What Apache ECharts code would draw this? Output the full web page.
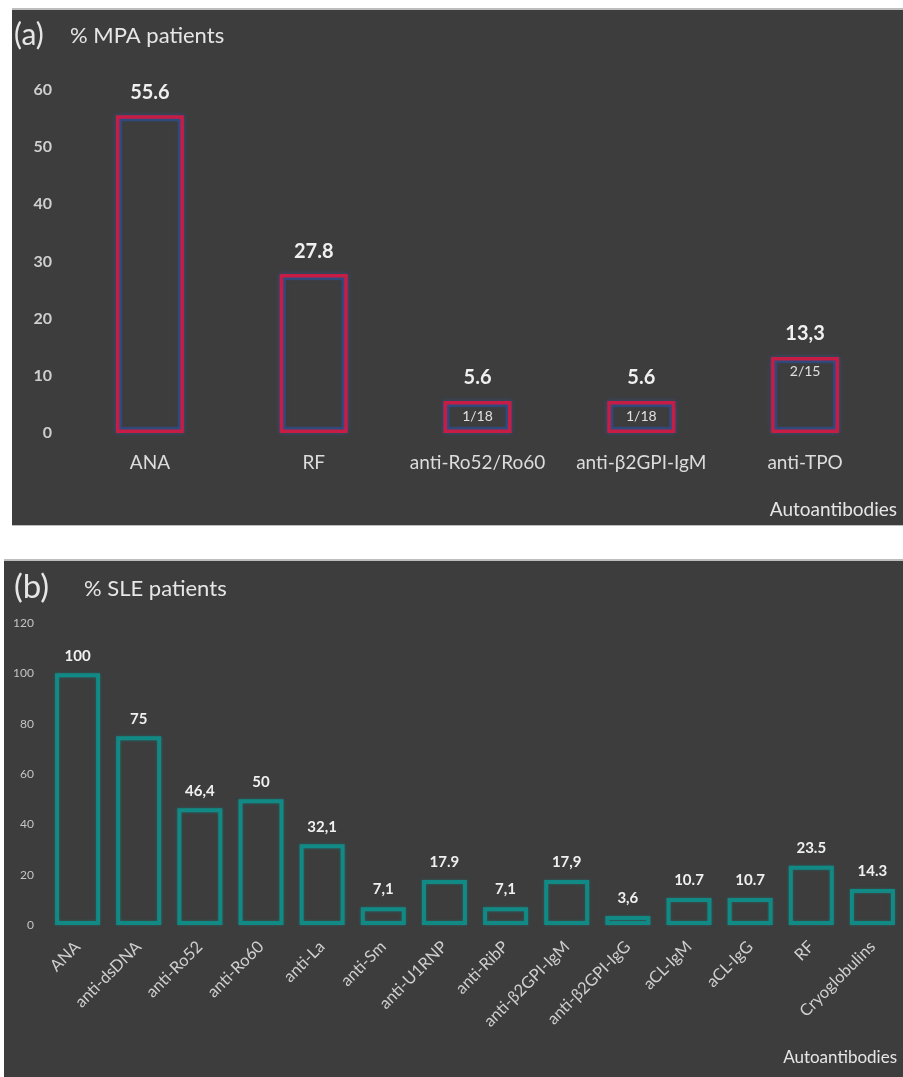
<!DOCTYPE html>
<html><head><meta charset="utf-8">
<script src="https://cdn.jsdelivr.net/npm/echarts@6/dist/echarts.min.js"></script>
<style>html,body{margin:0;padding:0;background:#fff}#c{width:903px;height:1077px}</style>
</head><body><div id="c"></div>
<script>
// Panel (a): MPA patients
const mpaCategories = ['ANA', 'RF', 'anti-Ro52/Ro60', 'anti-β2GPI-IgM', 'anti-TPO'];
const mpaValues = [55.6, 27.8, 5.6, 5.6, 13.3];
const mpaLabels = ['55.6', '27.8', '5.6', '5.6', '13,3'];
const mpaFractions = ['', '', '1/18', '1/18', '2/15'];
const mpaTicks = [0, 10, 20, 30, 40, 50, 60];

// Panel (b): SLE patients
const sleCategories = ['ANA', 'anti-dsDNA', 'anti-Ro52', 'anti-Ro60', 'anti-La', 'anti-Sm', 'anti-U1RNP', 'anti-RibP', 'anti-β2GPI-IgM', 'anti-β2GPI-IgG', 'aCL-IgM', 'aCL-IgG', 'RF', 'Cryoglobulins'];
const sleValues = [100, 75, 46.4, 50, 32.1, 7.1, 17.9, 7.1, 17.9, 3.6, 10.7, 10.7, 23.5, 14.3];
const sleLabels = ['100', '75', '46,4', '50', '32,1', '7,1', '17.9', '7,1', '17,9', '3,6', '10.7', '10.7', '23.5', '14.3'];
const sleTicks = [0, 20, 40, 60, 80, 100, 120];

const FONT = 'Lato, "Open Sans", sans-serif';
const BG = '#3d3d3d';
const chart = echarts.init(document.getElementById('c'), null, {renderer: 'canvas'});

chart.setOption({
  backgroundColor: '#ffffff',
  animation: false,
  textStyle: {fontFamily: FONT},
  graphic: [
    {type: 'rect', shape: {x: 12, y: 8, width: 895, height: 518}, style: {fill: '#bdbdbd'}, z: -12},
    {type: 'rect', shape: {x: 12, y: 10, width: 895, height: 515}, style: {fill: BG}, z: -10},
    {type: 'rect', shape: {x: 4, y: 559, width: 903, height: 520}, style: {fill: '#bdbdbd'}, z: -12},
    {type: 'rect', shape: {x: 4, y: 561, width: 903, height: 520}, style: {fill: BG}, z: -10},
    {type: 'text', left: 14, top: 20, style: {text: '(a)', fill: '#e6e6e6', font: '30px ' + FONT}},
    {type: 'text', left: 70, top: 25, style: {text: '% MPA patients', fill: '#e6e6e6', font: '22px ' + FONT}},
    {type: 'text', right: 6, top: 500, style: {text: 'Autoantibodies', fill: '#e6e6e6', font: '19px ' + FONT}},
    {type: 'text', left: 14, top: 571, style: {text: '(b)', fill: '#e6e6e6', font: '33px ' + FONT}},
    {type: 'text', left: 84, top: 578, style: {text: '% SLE patients', fill: '#e6e6e6', font: '22px ' + FONT}},
    {type: 'text', right: 6, top: 1049, style: {text: 'Autoantibodies', fill: '#e6e6e6', font: '17px ' + FONT}}
  ],
  grid: [
    {left: 68, right: 16, top: 90, bottom: 1077 - 433, containLabel: false},
    {left: 47, right: -8, top: 623, bottom: 1077 - 925, containLabel: false}
  ],
  xAxis: [
    {type: 'category', gridIndex: 0, data: mpaCategories,
     axisLine: {show: false}, axisTick: {show: false},
     axisLabel: {color: '#dcdcdc', fontSize: 19, margin: 20, fontFamily: FONT, interval: 0}},
    {type: 'category', gridIndex: 1, data: sleCategories,
     axisLine: {show: false}, axisTick: {show: false},
     axisLabel: {color: '#cfcfcf', fontSize: 16.5, margin: 19, rotate: 45, fontFamily: FONT, interval: 0}}
  ],
  yAxis: [
    {type: 'value', gridIndex: 0, min: mpaTicks[0], max: mpaTicks[mpaTicks.length - 1], interval: 10,
     splitLine: {show: false}, axisLine: {show: false}, axisTick: {show: false},
     axisLabel: {color: '#cfcfcf', fontSize: 16, fontWeight: 'bold', margin: 16, fontFamily: FONT}},
    {type: 'value', gridIndex: 1, min: sleTicks[0], max: sleTicks[sleTicks.length - 1], interval: 20,
     splitLine: {show: false}, axisLine: {show: false}, axisTick: {show: false},
     axisLabel: {color: '#c4c4c4', fontSize: 12, margin: 13, fontFamily: FONT}}
  ],
  series: [
    {type: 'bar', xAxisIndex: 0, yAxisIndex: 0, data: mpaValues, barWidth: 68, barGap: '-100%', silent: true,
     itemStyle: {color: 'rgba(0,0,0,0)', borderColor: '#2f4878', borderWidth: 6}},
    {type: 'bar', xAxisIndex: 0, yAxisIndex: 0, data: mpaValues, barWidth: 68, barGap: '-100%',
     itemStyle: {color: 'rgba(0,0,0,0)', borderColor: '#c71c43', borderWidth: 3.5,
                 shadowColor: '#34508a', shadowBlur: 4},
     label: {show: true, position: 'top', distance: 13, color: '#f0f0f0', fontSize: 20, fontWeight: 'bold', fontFamily: FONT,
             formatter: p => mpaLabels[p.dataIndex]}},
    {type: 'bar', xAxisIndex: 0, yAxisIndex: 0, data: mpaValues, barWidth: 68, barGap: '-100%',
     itemStyle: {color: 'rgba(0,0,0,0)'},
     label: {show: true, position: 'insideTop', distance: 8, color: '#e0e0e0', fontSize: 14, fontFamily: FONT,
             formatter: p => mpaFractions[p.dataIndex]}},
    {type: 'bar', xAxisIndex: 1, yAxisIndex: 1, data: sleValues, barWidth: 45,
     itemStyle: {color: 'rgba(0,0,0,0)', borderColor: '#118a86', borderWidth: 4, shadowColor: 'rgba(17,138,134,0.5)', shadowBlur: 3},
     label: {show: true, position: 'top', distance: 10, color: '#f0f0f0', fontSize: 15, fontWeight: 'bold', fontFamily: FONT,
             formatter: p => sleLabels[p.dataIndex]}}
  ]
});
</script></body></html>
